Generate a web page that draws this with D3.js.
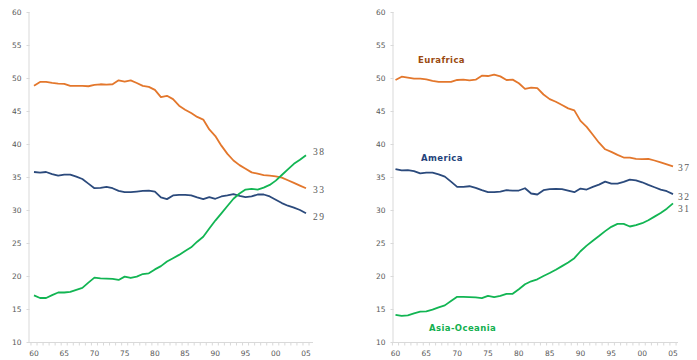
<!DOCTYPE html>
<html><head><meta charset="utf-8">
<script src="https://cdn.jsdelivr.net/npm/d3@7"></script>
<style>html,body{margin:0;padding:0;background:#fff;}svg{display:block;}</style>
</head><body>
<svg id="c" width="697" height="360"></svg>
<script>
const years = d3.range(1960, 2006);
const xTickLabels = ["60","65","70","75","80","85","90","95","00","05"];
const yTicks = [10,15,20,25,30,35,40,45,50,55,60];

// Left panel
const leftEurafrica = [48.84,49.4,49.4,49.25,49.15,49.1,48.8,48.8,48.8,48.75,48.95,49.05,49.0,49.05,49.65,49.45,49.65,49.25,48.8,48.65,48.2,47.1,47.3,46.8,45.8,45.2,44.7,44.1,43.7,42.2,41.2,39.75,38.5,37.5,36.8,36.25,35.7,35.5,35.3,35.2,35.1,34.9,34.5,34.1,33.7,33.3];
const leftAmerica = [35.76,35.65,35.76,35.45,35.2,35.35,35.35,35.05,34.7,34.0,33.3,33.35,33.5,33.3,32.9,32.7,32.7,32.8,32.9,32.95,32.8,31.9,31.65,32.2,32.3,32.3,32.2,31.9,31.65,31.95,31.7,32.05,32.2,32.4,32.15,31.95,32.05,32.35,32.35,32.05,31.55,31.05,30.65,30.35,30.0,29.5];
const leftAsia = [17.07,16.67,16.67,17.1,17.5,17.5,17.6,17.9,18.2,19.0,19.75,19.65,19.6,19.55,19.4,19.9,19.7,19.9,20.3,20.4,21.0,21.5,22.2,22.7,23.2,23.8,24.35,25.2,25.95,27.2,28.4,29.5,30.6,31.7,32.5,33.1,33.2,33.1,33.4,33.8,34.45,35.3,36.15,37.0,37.6,38.3];
const leftEndLabels = ["33","29","38"];

// Right panel
const rightEurafrica = [49.7,50.2,50.05,49.9,49.9,49.8,49.55,49.4,49.4,49.4,49.7,49.75,49.65,49.75,50.35,50.3,50.5,50.25,49.7,49.75,49.2,48.35,48.55,48.45,47.5,46.8,46.4,45.9,45.4,45.1,43.5,42.6,41.4,40.2,39.2,38.8,38.35,37.95,37.95,37.75,37.7,37.75,37.5,37.2,36.9,36.6];
const rightAmerica = [36.2,36.0,36.05,35.9,35.55,35.65,35.65,35.4,35.05,34.3,33.5,33.5,33.6,33.35,33.0,32.7,32.7,32.8,33.0,32.95,32.95,33.3,32.5,32.35,33.0,33.15,33.2,33.15,32.95,32.7,33.25,33.1,33.5,33.85,34.3,34.0,34.0,34.25,34.6,34.5,34.2,33.8,33.45,33.1,32.85,32.4];
const rightAsia = [14.1,13.95,14.05,14.35,14.6,14.65,14.9,15.25,15.55,16.2,16.85,16.85,16.8,16.75,16.65,17.0,16.8,17.0,17.3,17.3,18.0,18.75,19.2,19.5,20.0,20.45,20.95,21.5,22.05,22.7,23.75,24.6,25.35,26.05,26.8,27.45,27.9,27.9,27.5,27.7,28.0,28.45,29.0,29.55,30.2,31.0];
const rightEndLabels = ["37","32","31"];
const seriesNames = ["Eurafrica","America","Asia-Oceania"];

const lineColors = ["#E3772C","#2B4A7C","#12B553"];
const nameColors = ["#9A4A10","#24427A","#12B04F"];

const svg = d3.select("#c");
const y = d3.scaleLinear().domain([10,60]).range([342,12]);

function panel(opts){
  const g = svg.append("g");
  const x = d3.scalePoint().domain(years).range([opts.x0, opts.x1]);
  g.append("line").attr("x1",opts.ax).attr("x2",opts.ax).attr("y1",y(60)).attr("y2",y(10))
    .attr("stroke","#d9d9d9").attr("stroke-width",1);
  g.append("line").attr("x1",opts.ax).attr("x2",opts.axEnd).attr("y1",y(10)+0.5).attr("y2",y(10)+0.5)
    .attr("stroke","#d9d9d9").attr("stroke-width",1);
  const yAxis = d3.axisLeft(y).tickValues(yTicks).tickSize(3).tickPadding(5);
  const ya = g.append("g").attr("transform",`translate(${opts.ax+0.5},0)`).call(yAxis);
  ya.select(".domain").remove();
  ya.selectAll("line").attr("stroke","#d9d9d9");
  ya.selectAll("text").attr("fill","#595959").style("font-family","'DejaVu Sans',sans-serif").style("font-size","7.5px");
  const step = x.step();
  g.selectAll(".xt").data(d3.range(years.length+1)).join("line")
    .attr("x1",i=>opts.x0 - step/2 + i*step).attr("x2",i=>opts.x0 - step/2 + i*step)
    .attr("y1",y(10)+0.5).attr("y2",y(10)+3.5).attr("stroke","#d9d9d9");
  const labYears = years.filter(v=>v%5===0);
  g.selectAll(".xl").data(labYears).join("text")
    .attr("x",d=>x(d)).attr("y",356).attr("text-anchor","middle")
    .attr("fill","#595959").style("font-family","'DejaVu Sans',sans-serif").style("font-size","7.5px")
    .text((d,i)=>xTickLabels[i]);
  const line = d3.line().x((d,i)=>x(years[i])).y(d=>y(d)).curve(d3.curveLinear);
  opts.series.forEach((s,k)=>{
    g.append("path").datum(s).attr("d",line).attr("fill","none")
      .attr("stroke",lineColors[k]).attr("stroke-width",1.8).attr("stroke-linejoin","round");
  });
  opts.series.forEach((s,k)=>{
    g.append("text").attr("x",x(2005)+opts.endDx).attr("y",y(s[s.length-1])+opts.endDy[k])
      .attr("fill","#595959").style("font-family","'Liberation Serif',serif").style("font-size","9.5px")
      .style("letter-spacing","1.5px").text(opts.endLabels[k]);
  });
  return {g,x};
}

panel({x0:34,x1:306,ax:29,axEnd:313,series:[leftEurafrica,leftAmerica,leftAsia],endLabels:leftEndLabels,endDx:7,endDy:[4.3,7,-0.5]});
const r = panel({x0:395.5,x1:673,ax:393,axEnd:678,series:[rightEurafrica,rightAmerica,rightAsia],endLabels:rightEndLabels,endDx:5,endDy:[5,6,8.6]});

const namePos = [[418,62.5],[421,160.5],[429,331]];
seriesNames.forEach((n,k)=>{
  r.g.append("text").attr("x",namePos[k][0]).attr("y",namePos[k][1])
    .attr("fill",nameColors[k]).style("font-family","'DejaVu Sans',sans-serif")
    .style("font-weight","bold").style("font-size","8.5px").style("letter-spacing","0.4px").text(n);
});
</script>
</body></html>
